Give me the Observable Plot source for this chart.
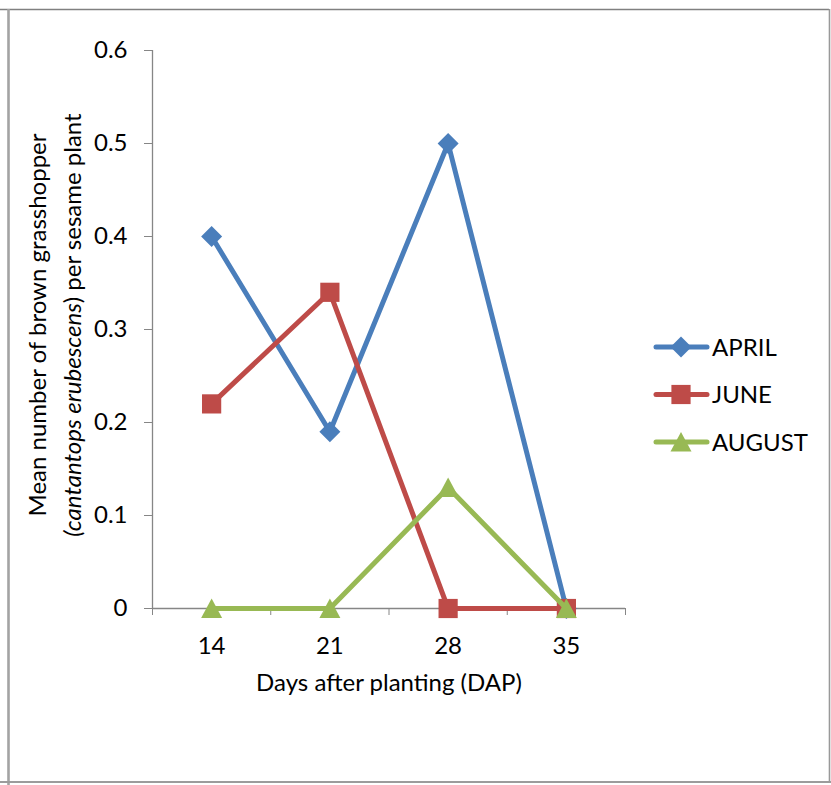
<!DOCTYPE html>
<html>
<head>
<meta charset="utf-8">
<script src="https://cdn.jsdelivr.net/npm/d3@7"></script>
<script src="https://cdn.jsdelivr.net/npm/@observablehq/plot@0.6"></script>
<style>
  body { margin: 0; background: #fff; }
  #chart { width: 831px; height: 785px; }
</style>
</head>
<body>
<div id="chart"></div>
<script>
// Sampling dates (days after planting)
const days = [14, 21, 28, 35];
// Planting months
const seriesNames = ["APRIL", "JUNE", "AUGUST"];
// Mean number of grasshoppers per plant, one array per planting month
const april = [0.40, 0.19, 0.50, 0];
const june = [0.22, 0.34, 0, 0];
const august = [0, 0, 0.13, 0];
// Y axis ticks
const yTicks = [0, 0.1, 0.2, 0.3, 0.4, 0.5, 0.6];

const colors = ["#4A7EBB", "#BE4B48", "#98B954"];
const axisColor = "#868686";
const font = "Lato, 'Open Sans', sans-serif";
const fontSize = 24;

const values = [april, june, august];
const rows = seriesNames.flatMap((name, i) =>
  days.map((d, j) => ({series: name, day: d, value: values[i][j]}))
);

// Marker shapes: diamond, square, triangle (centered on their bounding box)
const diamond = {draw(ctx, size) {
  const r = Math.sqrt(size / Math.PI);
  ctx.moveTo(0, -r); ctx.lineTo(r, 0); ctx.lineTo(0, r); ctx.lineTo(-r, 0); ctx.closePath();
}};
const square = {draw(ctx, size) {
  const r = Math.sqrt(size / Math.PI);
  ctx.rect(-r, -r, 2 * r, 2 * r);
}};
const triangle = {draw(ctx, size) {
  const r = Math.sqrt(size / Math.PI);
  ctx.moveTo(0, -r); ctx.lineTo(r * 1.05, r * 0.95); ctx.lineTo(-r * 1.05, r * 0.95); ctx.closePath();
}};
const symbols = [diamond, square, triangle];
const radii = [10.5, 9.6, 10];

// Categories sit in the middle of equal-width slots; ticks mark slot edges
const step = days[1] - days[0];
const xDomain = [days[0] - step / 2, days[days.length - 1] + step / 2];
const slotEdges = d3.range(xDomain[0], xDomain[1] + 1e-9, step);

const plot = Plot.plot({
  width: 831,
  height: 785,
  marginLeft: 152,
  marginRight: 206,
  marginTop: 50,
  marginBottom: 177,
  style: {fontFamily: font, fontSize: fontSize + "px", color: "#000", background: "white", overflow: "visible"},
  x: {domain: xDomain},
  y: {domain: [0, 0.6]},
  marks: [
    Plot.ruleX([xDomain[0]], {stroke: axisColor, strokeWidth: 1.3}),
    Plot.ruleY([0], {stroke: axisColor, strokeWidth: 1.3}),
    Plot.axisY(yTicks, {tickSize: 8, tickPadding: 17, stroke: axisColor, label: null, fontSize, tickFormat: d => String(d)}),
    Plot.axisX(slotEdges, {tickSize: 7, tickFormat: () => "", stroke: axisColor, label: null}),
    Plot.axisX(days, {tickSize: 0, tickPadding: 28, label: null, fontSize, tickFormat: d => String(d)}),
    Plot.text(["Days after planting (DAP)"], {frameAnchor: "bottom", lineAnchor: "top", dy: 65, fontSize, fill: "#000"}),
    ...seriesNames.flatMap((name, i) => {
      const data = rows.filter(r => r.series === name);
      return [
        Plot.line(data, {x: "day", y: "value", stroke: colors[i], strokeWidth: 5, strokeLinecap: "round", strokeLinejoin: "round"}),
        Plot.dot(data, {x: "day", y: "value", symbol: symbols[i], r: radii[i], fill: colors[i], stroke: null})
      ];
    })
  ]
});

document.getElementById("chart").appendChild(plot);
const svg = d3.select(plot);

// Y axis title, second line with the species name in italics
const yTitle = svg.append("g")
  .attr("transform", "translate(0,325) rotate(-90)")
  .attr("font-family", font)
  .attr("font-size", fontSize)
  .attr("fill", "#000")
  .attr("text-anchor", "middle");
yTitle.append("text").attr("x", 0).attr("y", 46).text("Mean number of brown grasshopper");
const line2 = yTitle.append("text").attr("x", 0).attr("y", 81);
line2.append("tspan").attr("font-style", "italic").text("(cantantops erubescens");
line2.append("tspan").text(") per sesame plant");

// Legend
const legend = svg.append("g")
  .attr("font-family", font)
  .attr("font-size", fontSize)
  .attr("fill", "#000")
  .attr("text-anchor", "start");
seriesNames.forEach((name, i) => {
  const g = legend.append("g").attr("transform", `translate(0,${347 + i * 47.5})`);
  g.append("line").attr("x1", 656).attr("x2", 707).attr("y1", 0).attr("y2", 0)
    .attr("stroke", colors[i]).attr("stroke-width", 5).attr("stroke-linecap", "round");
  const p = d3.path();
  symbols[i].draw(p, radii[i] * radii[i] * Math.PI);
  g.append("path").attr("transform", "translate(681,0)").attr("d", p.toString()).attr("fill", colors[i]);
  g.append("text").attr("x", 712).attr("y", 0).attr("dy", "0.36em").text(name);
});

// Chart frame
const frame = svg.append("g");
frame.append("line").attr("x1", 0).attr("x2", 829).attr("y1", 9.5).attr("y2", 9.5).attr("stroke", "#808080").attr("stroke-width", 1.3);
frame.append("line").attr("x1", 8.5).attr("x2", 8.5).attr("y1", 9).attr("y2", 785).attr("stroke", "#a3a3a3").attr("stroke-width", 2.6);
frame.append("line").attr("x1", 829.5).attr("x2", 829.5).attr("y1", 9).attr("y2", 782).attr("stroke", "#999").attr("stroke-width", 1.6);
frame.append("line").attr("x1", 0).attr("x2", 831).attr("y1", 782).attr("y2", 782).attr("stroke", "#9c9c9c").attr("stroke-width", 2.2);
</script>
</body>
</html>
